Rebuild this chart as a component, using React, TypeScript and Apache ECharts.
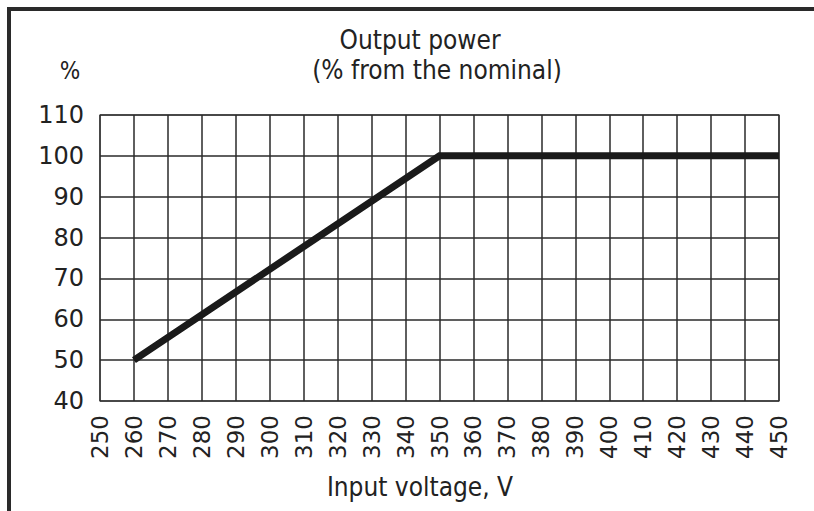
import React, { useEffect, useRef } from "react";
import * as echarts from "echarts";

const xTicks = [250, 260, 270, 280, 290, 300, 310, 320, 330, 340, 350, 360, 370, 380, 390, 400, 410, 420, 430, 440, 450];
const yTicks = [40, 50, 60, 70, 80, 90, 100, 110];
const voltage = [260, 350, 450];
const powerPct = [50, 100, 100];

const titleLine1 = "Output power";
const titleLine2 = "(% from the nominal)";
const yUnit = "%";
const xName = "Input voltage, V";

const FONT = "'DejaVu Sans Condensed', 'DejaVu Sans', sans-serif";
const TICK_FONT = "'DejaVu Sans', sans-serif";
const INK = "#222";

export default function App() {
  const ref = useRef<HTMLDivElement>(null);
  useEffect(() => {
    if (!ref.current) return;
    const chart = echarts.init(ref.current, undefined, { renderer: "svg" });
    chart.setOption({
      animation: false,
      backgroundColor: "#fff",
      grid: { left: 100, top: 115, right: 35, bottom: 110, show: true, borderColor: "#888", borderWidth: 1.5, backgroundColor: "transparent" },
      xAxis: {
        type: "value",
        min: xTicks[0],
        max: xTicks[xTicks.length - 1],
        interval: 10,
        axisLine: { show: false },
        axisTick: { show: false },
        axisLabel: { rotate: 90, margin: 14, fontSize: 23, color: INK, fontFamily: TICK_FONT },
        splitLine: { show: true, lineStyle: { color: "#2a2a2a", width: 1.5 } },
      },
      yAxis: {
        type: "value",
        min: yTicks[0],
        max: yTicks[yTicks.length - 1],
        interval: 10,
        axisLine: { show: false },
        axisTick: { show: false },
        axisLabel: { margin: 16, fontSize: 24, color: INK, fontFamily: TICK_FONT },
        splitLine: { show: true, lineStyle: { color: "#2a2a2a", width: 1.5 } },
      },
      series: [
        {
          type: "line",
          data: voltage.map((v, i) => [v, powerPct[i]]),
          symbol: "none",
          lineStyle: { color: "#1a1a1a", width: 7, cap: "butt", join: "miter" },
          z: 5,
        },
      ],
      graphic: [
        { type: "rect", shape: { x: 7, y: 7, width: 807, height: 4 }, style: { fill: "#2a2a2a" } },
        { type: "rect", shape: { x: 7, y: 7, width: 4, height: 504 }, style: { fill: "#2a2a2a" } },
        { type: "text", x: 420, y: 53, style: { text: titleLine1, font: `26px ${FONT}`, fill: INK, textAlign: "center", textVerticalAlign: "bottom" } },
        { type: "text", x: 437, y: 83, style: { text: titleLine2, font: `26px ${FONT}`, fill: INK, textAlign: "center", textVerticalAlign: "bottom" } },
        { type: "text", x: 70, y: 83, style: { text: yUnit, font: `24px ${FONT}`, fill: INK, textAlign: "center", textVerticalAlign: "bottom" } },
        { type: "text", x: 420, y: 500, style: { text: xName, font: `26px ${FONT}`, fill: INK, textAlign: "center", textVerticalAlign: "bottom" } },
      ],
    });
    return () => chart.dispose();
  }, []);
  return <div ref={ref} style={{ width: 814, height: 511, position: "absolute", left: 0, top: 0 }} />;
}
